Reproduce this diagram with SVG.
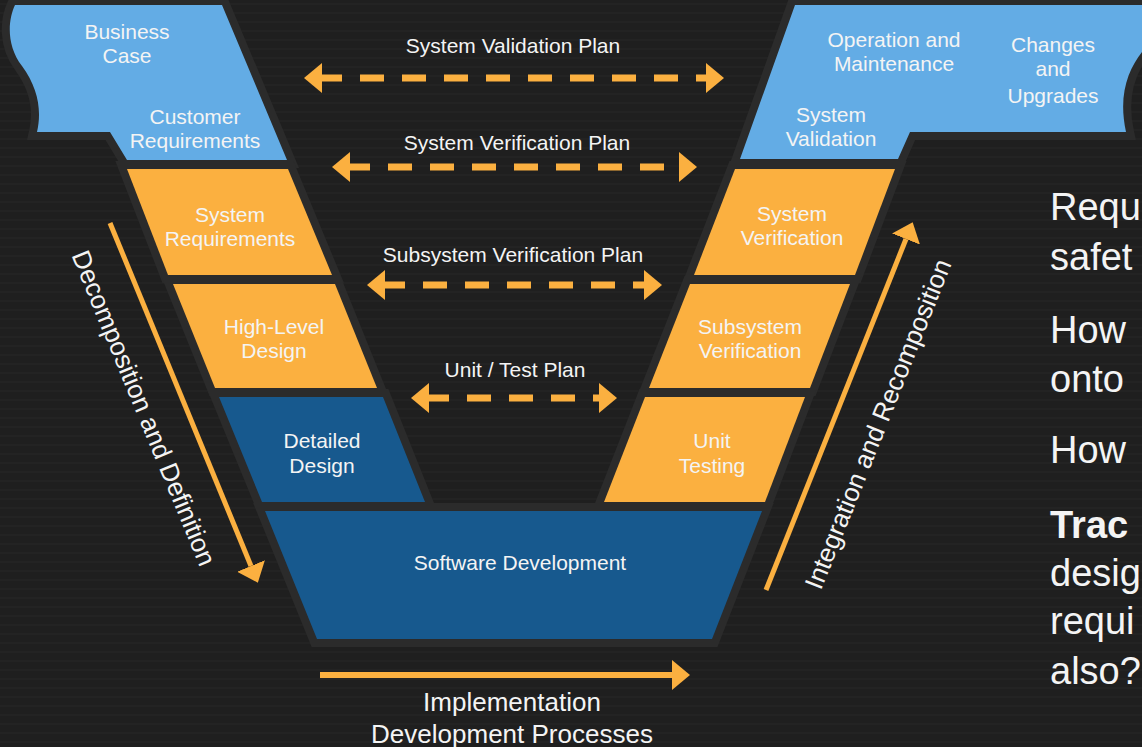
<svg xmlns="http://www.w3.org/2000/svg" width="1142" height="747" viewBox="0 0 1142 747">
  <defs>
    <style>
      .lbl { font-family: "Liberation Sans", Arial, sans-serif; font-size: 21px; fill: #f4f4f4; text-anchor: middle; }
      .big { font-family: "Liberation Sans", Arial, sans-serif; font-size: 26px; fill: #f4f4f4; text-anchor: middle; }
      .side { font-family: "Liberation Sans", Arial, sans-serif; font-size: 38px; fill: #f4f4f4; }
      .blk { stroke: #2b2b2b; stroke-width: 16; stroke-linejoin: miter; paint-order: stroke; }
      .sky { fill: #63ace5; }
      .amber { fill: #fbb040; }
      .navy { fill: #17598e; }
      .dash { stroke: #fbb040; stroke-width: 7; stroke-dasharray: 24 18; stroke-dashoffset: 4; fill: none; }
      .solid { stroke: #fbb040; fill: none; }
    </style>
    <pattern id="streaks" width="40" height="9" patternUnits="userSpaceOnUse">
      <rect width="40" height="9" fill="#1f1f1f"/>
      <rect y="3" width="40" height="2" fill="#262626" opacity="0.6"/>
    </pattern>
    <marker id="head" viewBox="0 -15 18 30" refX="0" refY="0" markerWidth="18" markerHeight="30" markerUnits="userSpaceOnUse" orient="auto-start-reverse">
      <path d="M0,-15 L18,0 L0,15 Z" fill="#fbb040"/>
    </marker>
  </defs>

  <!-- backdrop -->
  <rect width="1142" height="747" fill="url(#streaks)"/>

  <!-- upper left banner -->
  <g id="business-case">
    <path class="blk sky" d="M15,5 L222,5 L287,160 L127,160 L110,132 L37,132 C42,110 38,88 22,66 C6,45 8,20 15,5 Z"/>
    <text class="lbl"><tspan x="127" y="39">Business</tspan><tspan x="127" y="63">Case</tspan></text>
    <text class="lbl"><tspan x="195" y="124">Customer</tspan><tspan x="195" y="148">Requirements</tspan></text>
  </g>

  <!-- upper right banner -->
  <g id="operation">
    <path class="blk sky" d="M795,5 L1150,5 L1150,50 L1142,52 C1128,70 1118,95 1126,132 L910,132 L898,159 L740,159 Z"/>
    <text class="lbl"><tspan x="894" y="47">Operation and</tspan><tspan x="894" y="71">Maintenance</tspan></text>
    <text class="lbl"><tspan x="1053" y="52">Changes</tspan><tspan x="1053" y="76">and</tspan><tspan x="1053" y="103">Upgrades</tspan></text>
    <text class="lbl"><tspan x="831" y="122">System</tspan><tspan x="831" y="146">Validation</tspan></text>
  </g>

  <!-- left leg -->
  <g id="system-requirements">
    <path class="blk amber" d="M127,169 L288,169 L332,275 L168,275 Z"/>
    <text class="lbl"><tspan x="230" y="222">System</tspan><tspan x="230" y="246">Requirements</tspan></text>
  </g>
  <g id="high-level-design">
    <path class="blk amber" d="M173,284 L335,284 L377,388 L215,388 Z"/>
    <text class="lbl"><tspan x="274" y="334">High-Level</tspan><tspan x="274" y="358">Design</tspan></text>
  </g>
  <g id="detailed-design">
    <path class="blk navy" d="M219,397 L383,397 L425,502 L262,502 Z"/>
    <text class="lbl"><tspan x="322" y="448">Detailed</tspan><tspan x="322" y="473">Design</tspan></text>
  </g>

  <!-- right leg -->
  <g id="system-verification">
    <path class="blk amber" d="M735,169 L895,169 L855,275 L694,275 Z"/>
    <text class="lbl"><tspan x="792" y="221">System</tspan><tspan x="792" y="245">Verification</tspan></text>
  </g>
  <g id="subsystem-verification">
    <path class="blk amber" d="M690,284 L850,284 L810,388 L649,388 Z"/>
    <text class="lbl"><tspan x="750" y="334">Subsystem</tspan><tspan x="750" y="358">Verification</tspan></text>
  </g>
  <g id="unit-testing">
    <path class="blk amber" d="M645,397 L805,397 L765,502 L604,502 Z"/>
    <text class="lbl"><tspan x="712" y="448">Unit</tspan><tspan x="712" y="473">Testing</tspan></text>
  </g>

  <!-- base -->
  <g id="software-development">
    <path class="blk navy" d="M265,511 L762,511 L712,639 L317,639 Z"/>
    <text class="lbl" x="520" y="570">Software Development</text>
  </g>

  <!-- plans, flows and process arrows -->
  <g id="connectors">
    <line class="dash" x1="322" y1="78" x2="706" y2="78" marker-start="url(#head)" marker-end="url(#head)"/>
    <line class="dash" x1="350" y1="167" x2="679" y2="167" marker-start="url(#head)" marker-end="url(#head)"/>
    <line class="dash" x1="385" y1="285" x2="644" y2="285" marker-start="url(#head)" marker-end="url(#head)"/>
    <line class="dash" x1="429" y1="398" x2="599" y2="398" marker-start="url(#head)" marker-end="url(#head)"/>
    <line class="solid" stroke-width="5" x1="110" y1="223" x2="251" y2="566" marker-end="url(#head)"/>
    <line class="solid" stroke-width="5" x1="766" y1="590" x2="906" y2="239" marker-end="url(#head)"/>
    <line class="solid" stroke-width="6" x1="320" y1="675" x2="672" y2="675" marker-end="url(#head)"/>
  </g>

  <!-- arrow labels -->
  <g id="labels">
    <text class="lbl" x="513" y="53">System Validation Plan</text>
    <text class="lbl" x="517" y="150">System Verification Plan</text>
    <text class="lbl" x="513" y="262">Subsystem Verification Plan</text>
    <text class="lbl" x="515" y="377">Unit / Test Plan</text>
    <text class="big" transform="translate(144,408) rotate(67.6)" y="9">Decomposition and Definition</text>
    <text class="big" transform="translate(878,424) rotate(-68.2)" y="9">Integration and Recomposition</text>
    <text class="big"><tspan x="512" y="711">Implementation</tspan><tspan x="512" y="743">Development Processes</tspan></text>
  </g>

  <!-- notes column -->
  <g id="notes">
    <text class="side" x="1050" y="220">Requ</text>
    <text class="side" x="1050" y="270">safet</text>
    <text class="side" x="1050" y="343">How</text>
    <text class="side" x="1050" y="392">onto</text>
    <text class="side" x="1050" y="463">How</text>
    <text class="side" x="1050" y="538" font-weight="bold">Trac</text>
    <text class="side" x="1050" y="586">desig</text>
    <text class="side" x="1050" y="634">requi</text>
    <text class="side" x="1050" y="684">also?</text>
  </g>
</svg>
